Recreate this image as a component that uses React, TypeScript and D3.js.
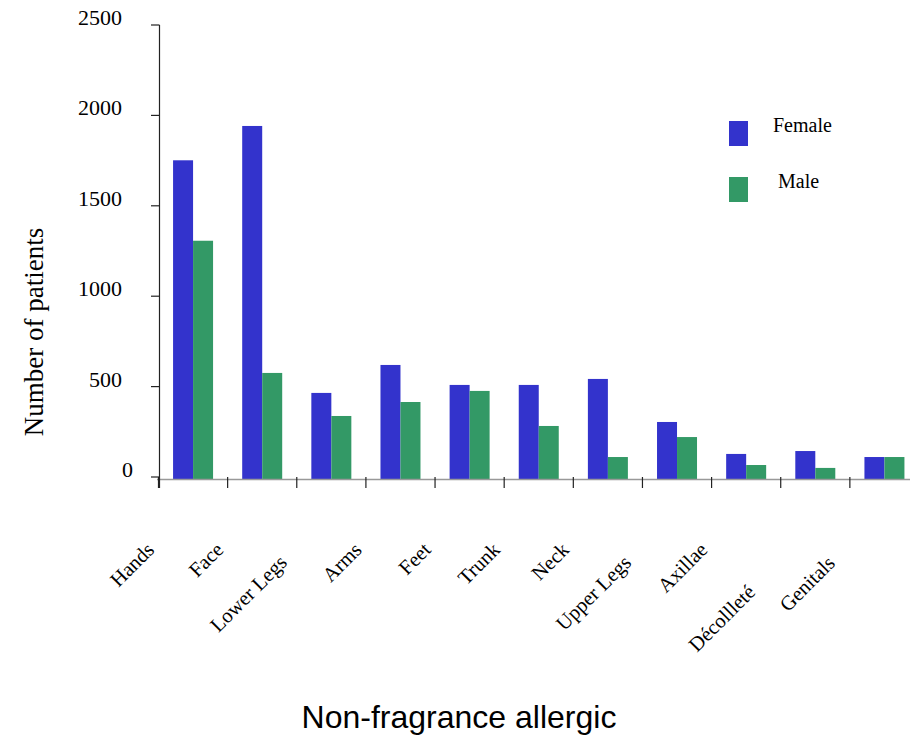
import React from "react";
import * as d3 from "d3";

// Body sites and patient counts per sex
const sites = [
  "Hands",
  "Face",
  "Lower Legs",
  "Arms",
  "Feet",
  "Trunk",
  "Neck",
  "Upper Legs",
  "Axillae",
  "Décollleté",
  "Genitals",
];
const female = [1755, 1944, 474, 628, 518, 518, 551, 314, 138, 154, 121];
const male = [1312, 584, 347, 424, 485, 292, 121, 231, 77, 61, 121];
const yTicks = [0, 500, 1000, 1500, 2000, 2500];
const seriesNames = ["Female", "Male"];

// Small per-label shifts (along / across the rotated baseline) for the long labels
const labelNudge: Record<string, [number, number]> = {
  "Lower Legs": [-13, 5],
  "Upper Legs": [-14, 4],
  "Décollleté": [-45, 15],
  Genitals: [-17, 2],
};

const W = 914;
const H = 736;
const BLUE = "#3333cc";
const GREEN = "#339966";
const SERIF = "'Liberation Serif', 'Times New Roman', serif";
const SANS = "'Liberation Sans', Arial, sans-serif";

export default function App() {
  const x = d3.scaleBand<string>().domain(sites).range([158.5, 919]).padding(0);
  const y = d3.scaleLinear().domain([0, 2500]).range([479, 25]);
  const barW = 20;
  const axisX = 159.5;
  const baseY = 479.5;

  return (
    <svg
      width={W}
      height={H}
      viewBox={`0 0 ${W} ${H}`}
      style={{ position: "absolute", left: 0, top: 0, background: "#fff" }}
    >
      {/* bars */}
      {sites.map((s, i) => {
        const c = (x(s) as number) + x.bandwidth() / 2;
        return (
          <g key={s}>
            <rect
              x={c - barW}
              y={y(female[i])}
              width={barW}
              height={y(0) - y(female[i])}
              fill={BLUE}
            />
            <rect
              x={c}
              y={y(male[i])}
              width={barW}
              height={y(0) - y(male[i])}
              fill={GREEN}
            />
          </g>
        );
      })}

      {/* x baseline */}
      <line x1={157} x2={910} y1={baseY} y2={baseY} stroke="#999" strokeWidth={1.5} />
      {sites.map((s) => (
        <line
          key={"xt" + s}
          x1={x(s) as number}
          x2={x(s) as number}
          y1={477}
          y2={488}
          stroke="#222"
          strokeWidth={1.2}
        />
      ))}

      {/* y axis */}
      <line x1={axisX} x2={axisX} y1={y(2500)} y2={488} stroke="#222" strokeWidth={1.2} />
      {yTicks.map((t) => (
        <g key={"yt" + t}>
          <line x1={151} x2={axisX} y1={y(t) - 2 * (1 - t / 2500)} y2={y(t) - 2 * (1 - t / 2500)} stroke="#222" strokeWidth={1.2} />
          <text
            x={t === 0 ? 133 : 122}
            y={y(t) - 2 * (1 - t / 2500)}
            textAnchor="end"
            fontFamily={SERIF}
            fontSize={22}
            fill="#000"
          >
            {t}
          </text>
        </g>
      ))}

      {/* category labels */}
      {sites.map((s) => {
        const [dx, dy] = labelNudge[s] || [0, 0];
        const tx = (x(s) as number) - 3;
        return (
          <text
            key={"xl" + s}
            transform={`translate(${tx},551) rotate(-45)`}
            dx={dx}
            dy={dy}
            textAnchor="end"
            fontFamily={SERIF}
            fontSize={20.5}
            fill="#000"
          >
            {s}
          </text>
        );
      })}

      {/* y title */}
      <text
        transform={`translate(43,332) rotate(-90)`}
        textAnchor="middle"
        fontFamily={SERIF}
        fontSize={27}
        fill="#000"
      >
        Number of patients
      </text>

      {/* x title */}
      <text x={459} y={728} textAnchor="middle" fontFamily={SANS} fontSize={32} fill="#000">
        Non-fragrance allergic
      </text>

      {/* legend */}
      {seriesNames.map((n, i) => (
        <g key={"lg" + n}>
          <rect x={729} y={121 + i * 56} width={19} height={25} fill={i === 0 ? BLUE : GREEN} />
          <text
            x={i === 0 ? 773 : 778}
            y={132 + i * 55.5}
            fontFamily={SERIF}
            fontSize={20}
            fill="#000"
          >
            {n}
          </text>
        </g>
      ))}
    </svg>
  );
}
